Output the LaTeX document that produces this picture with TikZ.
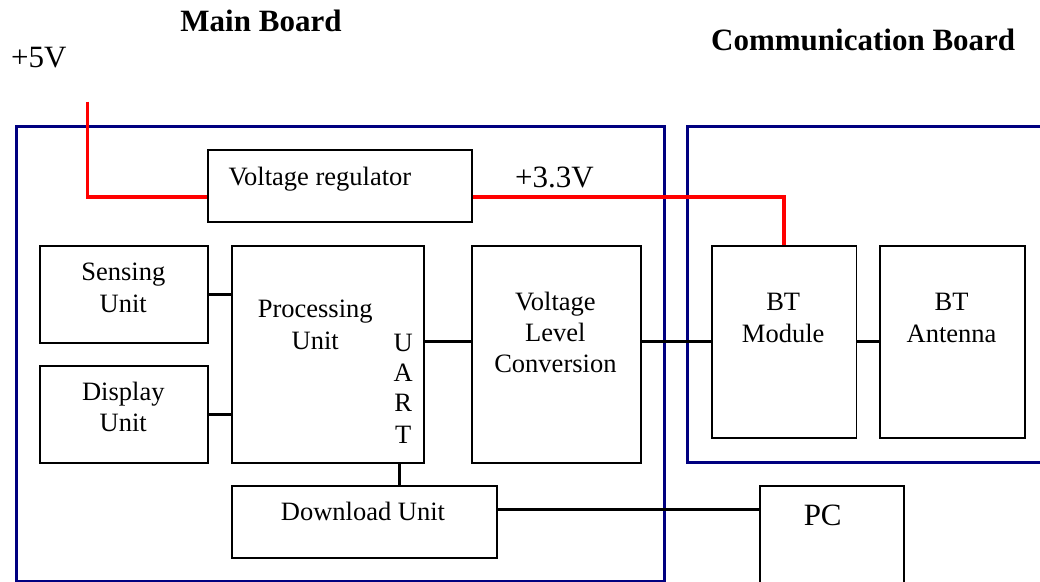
\documentclass[tikz,border=0pt]{standalone}
\usepackage{fontspec}
\setmainfont{Liberation Serif}
\definecolor{boardblue}{RGB}{0,0,128}
\definecolor{pwrred}{RGB}{255,0,0}
\begin{document}
\begin{tikzpicture}[x=1pt,y=-1pt,
  box/.style={draw=black, line width=1.8pt, inner sep=0pt, anchor=north west, rectangle},
  board/.style={draw=boardblue, line width=3pt, inner sep=0pt, anchor=north west, rectangle},
  conn/.style={draw=black, line width=3pt},
  pwr/.style={draw=pwrred, line width=3.6pt},
  txt/.style={font=\fontsize{26.5}{31}\selectfont, inner sep=0pt, anchor=base},
  bigtxt/.style={font=\fontsize{31}{36}\selectfont, inner sep=0pt, anchor=base},
  title/.style={font=\fontsize{31}{36}\selectfont\bfseries, inner sep=0pt, anchor=base}]
\useasboundingbox (0,0) rectangle (1040,581);
\fill[white] (0,0) rectangle (1040,581);

% boards
\node[board, minimum width=648pt, minimum height=454.2pt] (mainb) at (14.7,125.3) {};
\node[board, minimum width=380pt, minimum height=335.7pt] (commb) at (686.4,125.3) {};

% boxes
\node[box, minimum width=264.3pt, minimum height=71.7pt] (vr) at (207,149.3) {};
\node[box, minimum width=168.3pt, minimum height=96.7pt] (sens) at (39,245) {};
\node[box, minimum width=168.3pt, minimum height=96.4pt] (disp) at (39,365.3) {};
\node[box, minimum width=192.3pt, minimum height=216.7pt] (proc) at (231,245) {};
\node[box, minimum width=168.8pt, minimum height=216.7pt] (vlc) at (471,245) {};
\node[box, minimum width=144.7pt, minimum height=192pt] (btm) at (710.8,245) {};
\node[box, minimum width=144.6pt, minimum height=192pt] (bta) at (879.2,245) {};
\node[box, minimum width=264.7pt, minimum height=72pt] (dl) at (231,485.3) {};
\node[box, minimum width=144.3pt, minimum height=110pt] (pc) at (759,485.3) {};

% helper coordinates
\coordinate (p5top) at (87.3,101.7);
\coordinate (redy) at (0,196.7);
\coordinate (uartx) at (399,0);
\coordinate (pcy) at (0,509.3);

% power lines
\draw[pwr] (p5top) |- (vr.west |- redy);
\draw[pwr] (vr.east |- redy) -| (btm.north);

% signal connectors
\draw[conn] (sens.east) -- (proc.west |- sens.east);
\draw[conn] (disp.east) -- (proc.west |- disp.east);
\draw[conn] (proc.east |- btm.west) -- (vlc.west |- btm.west);
\draw[conn] (vlc.east |- btm.west) -- (btm.west);
\draw[conn] (btm.east) -- (bta.west);
\draw[conn] (proc.south -| uartx) -- (dl.north -| uartx);
\draw[conn] (dl.east |- pcy) -- (pc.west |- pcy);

% titles and labels
\node[title] (tmain) at (261,31.7) {Main Board};
\node[title] (tcomm) at (863.2,50.7) {Communication Board};
\node[bigtxt, anchor=base west] (l5v) at (11,67.7) {+5V};
\node[bigtxt, anchor=base west] (l33v) at (515,187.7) {+3.3V};
\node[txt, anchor=base west] (tvr) at (228.3,185) {Voltage regulator};

\node[txt] (ts1) at (123.3,280) {Sensing};
\node[txt] (ts2) at (123.3,312.2) {Unit};
\node[txt] (td1) at (123.3,400) {Display};
\node[txt] (td2) at (123.3,431.7) {Unit};
\node[txt] (tp1) at (315.2,317.3) {Processing};
\node[txt] (tp2) at (315.2,349.3) {Unit};
\node[txt] (tu1) at (403.3,351) {U};
\node[txt] (tu2) at (403.3,381.7) {A};
\node[txt] (tu3) at (403.3,411.7) {R};
\node[txt] (tu4) at (403.3,443.3) {T};
\node[txt] (tv1) at (555.4,310.7) {Voltage};
\node[txt] (tv2) at (555.4,341.7) {Level};
\node[txt] (tv3) at (555.4,372.3) {Conversion};
\node[txt] (tb1) at (783.2,310.7) {BT};
\node[txt] (tb2) at (783.2,342.3) {Module};
\node[txt] (ta1) at (951.5,310.7) {BT};
\node[txt] (ta2) at (951.5,342.3) {Antenna};
\node[txt] (tdl) at (363,520) {Download Unit};
\node[bigtxt] (tpc) at (822.7,525.7) {PC};
\end{tikzpicture}
\end{document}
